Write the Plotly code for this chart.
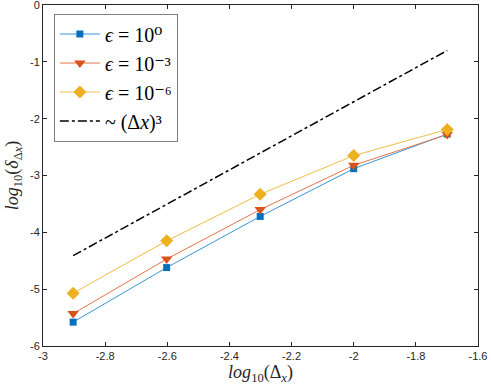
import plotly.graph_objects as go

# log10 of grid spacing
log_dx = [-2.903, -2.602, -2.301, -2.0, -1.699]

err_eps0 = [-5.58, -4.62, -3.72, -2.88, -2.27]
err_eps3 = [-5.43, -4.47, -3.60, -2.82, -2.28]
err_eps6 = [-5.07, -4.15, -3.33, -2.65, -2.19]
ref_slope3 = [-4.41, -3.51, -2.60, -1.70, -0.80]

x_ticks = [-3, -2.8, -2.6, -2.4, -2.2, -2, -1.8, -1.6]
y_ticks = [-6, -5, -4, -3, -2, -1, 0]

AX = "#262626"
SERIF = "Liberation Serif, DejaVu Serif, serif"

fig = go.Figure()

series = [
    (err_eps0, "<i>ϵ</i> = 10⁰", "#0072BD", "#3A93D6", "square", 7),
    (err_eps3, "<i>ϵ</i> = 10⁻³", "#D95319", "#E5744A", "triangle-down", 10),
    (err_eps6, "<i>ϵ</i> = 10⁻⁶", "#EDB120", "#F0BE45", "diamond", 10),
]
for ys, name, mcol, lcol, sym, size in series:
    fig.add_trace(go.Scatter(
        x=log_dx, y=ys, name=name, mode="lines+markers",
        line=dict(color=lcol, width=1),
        marker=dict(symbol=sym, size=size, color=mcol),
    ))

fig.add_trace(go.Scatter(
    x=log_dx, y=ref_slope3, name="~ (Δ<i>x</i>)³", mode="lines",
    line=dict(color="black", width=1.5, dash="dashdot"),
))

axis_common = dict(
    showline=True, linecolor=AX, linewidth=1, mirror="ticks",
    ticks="inside", ticklen=4, tickcolor=AX,
    showgrid=False, zeroline=False, automargin=False,
    ticklabeloverflow="allow",
    tickfont=dict(family="Liberation Sans, Arial, sans-serif", size=11, color=AX),
)

fig.update_xaxes(
    range=[-3, -1.6], tickvals=x_ticks, ticktext=[f"{v:g}" for v in x_ticks],
    title=dict(text="<i>log</i><sub>10</sub>(Δ<sub><i>x</i></sub>)",
               font=dict(family=SERIF, size=18, color=AX), standoff=4),
    **axis_common,
)
fig.update_yaxes(
    range=[-6, 0], tickvals=y_ticks, ticktext=[f"{v:g}" for v in y_ticks],
    title=dict(text="<i>log</i><sub>10</sub>(<i>δ</i><sub>Δ<i>x</i></sub>)",
               font=dict(family=SERIF, size=18, color=AX), standoff=6),
    **axis_common,
)

fig.update_layout(
    width=491, height=392,
    margin=dict(l=43, r=13, t=5, b=46),
    plot_bgcolor="white", paper_bgcolor="white",
    legend=dict(
        x=0.025, y=0.975, xanchor="left", yanchor="top",
        bgcolor="white", bordercolor="#7f7f7f", borderwidth=1,
        font=dict(family=SERIF, size=20, color="black"),
        itemwidth=40, tracegroupgap=0,
    ),
)

# drop the browser's default body margin so the figure sits at the page origin
fig.write_html(
    "out.html",
    config={"displayModeBar": False},
    post_script="document.body.style.margin='0';",
)
